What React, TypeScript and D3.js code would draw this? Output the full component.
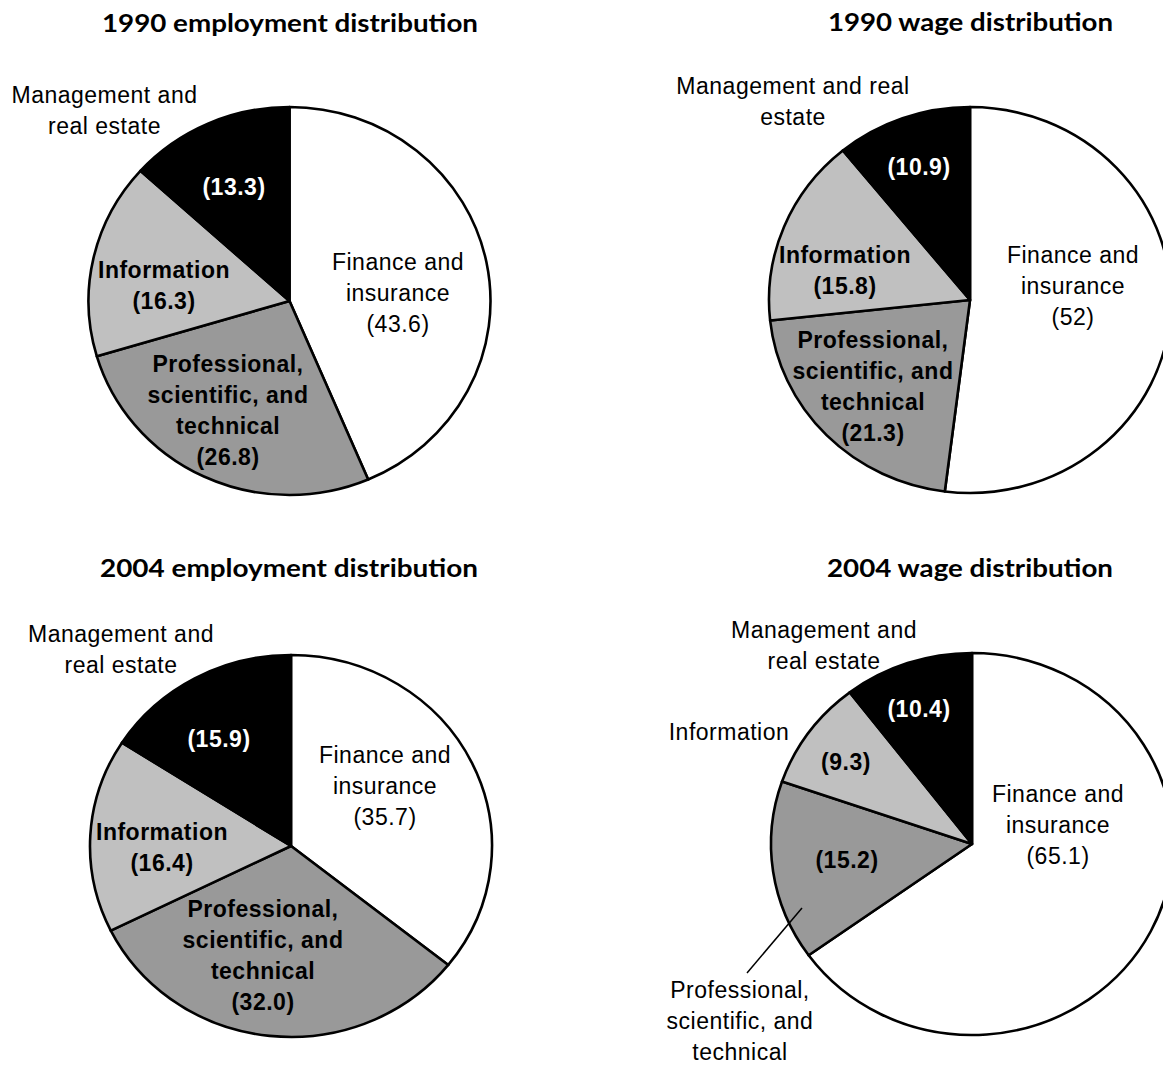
import React from "react";
import * as d3 from "d3";

// Sector order, clockwise from 12 o'clock
const sectors = [
  "Finance and insurance",
  "Professional, scientific, and technical",
  "Information",
  "Management and real estate",
];

// Shares in percent
const employment1990 = [43.6, 26.8, 16.3, 13.3];
const wages1990 = [52, 21.3, 15.8, 10.9];
const employment2004 = [35.7, 32.0, 16.4, 15.9];
const wages2004 = [65.1, 15.2, 9.3, 10.4];

// Printed value text
const employment1990Text = ["43.6", "26.8", "16.3", "13.3"];
const wages1990Text = ["52", "21.3", "15.8", "10.9"];
const employment2004Text = ["35.7", "32.0", "16.4", "15.9"];
const wages2004Text = ["65.1", "15.2", "9.3", "10.4"];

const titles = [
  "1990 employment distribution",
  "1990 wage distribution",
  "2004 employment distribution",
  "2004 wage distribution",
];

const fills = ["#ffffff", "#999999", "#c0c0c0", "#000000"];

const LABEL_FONT = "'Liberation Sans', Arial, Helvetica, sans-serif";
const TITLE_FONT = "Lato, 'DejaVu Sans', sans-serif";
const FS = 23;
const LH = 31;

type Label = {
  lines: string[];
  dx: number;
  dy: number;
  bold?: boolean;
  white?: boolean;
};

type PieSpec = {
  title: string;
  titleX: number;
  titleY: number;
  titleW: number;
  values: number[];
  text: string[];
  cx: number;
  cy: number;
  rx: number;
  ry: number;
  labels: (v: string[]) => Label[];
  leader?: [number, number, number, number];
};

const pies: PieSpec[] = [
  {
    title: titles[0],
    titleX: 290,
    titleY: 32,
    titleW: 376,
    values: employment1990,
    text: employment1990Text,
    cx: 289.5,
    cy: 301,
    rx: 201,
    ry: 194,
    labels: (v) => [
      { lines: ["Finance and", "insurance", `(${v[0]})`], dx: 108.5, dy: -31 },
      { lines: ["Professional,", "scientific, and", "technical", `(${v[1]})`], dx: -61.5, dy: 71, bold: true },
      { lines: ["Information", `(${v[2]})`], dx: -125.5, dy: -23, bold: true },
      { lines: [`(${v[3]})`], dx: -55.5, dy: -106, bold: true, white: true },
      { lines: ["Management and", "real estate"], dx: -185, dy: -198 },
    ],
  },
  {
    title: titles[1],
    titleX: 970.5,
    titleY: 31,
    titleW: 285,
    values: wages1990,
    text: wages1990Text,
    cx: 970,
    cy: 300,
    rx: 201,
    ry: 193,
    labels: (v) => [
      { lines: ["Finance and", "insurance", `(${v[0]})`], dx: 103, dy: -37 },
      { lines: ["Professional,", "scientific, and", "technical", `(${v[1]})`], dx: -97, dy: 48, bold: true },
      { lines: ["Information", `(${v[2]})`], dx: -125, dy: -37, bold: true },
      { lines: [`(${v[3]})`], dx: -51, dy: -125, bold: true, white: true },
      { lines: ["Management and real", "estate"], dx: -177, dy: -206 },
    ],
  },
  {
    title: titles[2],
    titleX: 289,
    titleY: 577,
    titleW: 378,
    values: employment2004,
    text: employment2004Text,
    cx: 291,
    cy: 846,
    rx: 201,
    ry: 191,
    labels: (v) => [
      { lines: ["Finance and", "insurance", `(${v[0]})`], dx: 94, dy: -83 },
      { lines: ["Professional,", "scientific, and", "technical", `(${v[1]})`], dx: -28, dy: 71, bold: true },
      { lines: ["Information", `(${v[2]})`], dx: -129, dy: -6, bold: true },
      { lines: [`(${v[3]})`], dx: -72, dy: -99, bold: true, white: true },
      { lines: ["Management and", "real estate"], dx: -170, dy: -204 },
    ],
  },
  {
    title: titles[3],
    titleX: 970,
    titleY: 577,
    titleW: 286,
    values: wages2004,
    text: wages2004Text,
    cx: 972,
    cy: 844,
    rx: 201,
    ry: 191,
    labels: (v) => [
      { lines: ["Finance and", "insurance", `(${v[0]})`], dx: 86, dy: -42 },
      { lines: [`(${v[1]})`], dx: -125, dy: 24, bold: true },
      { lines: ["Professional,", "scientific, and", "technical"], dx: -232, dy: 154 },
      { lines: [`(${v[2]})`], dx: -126, dy: -74, bold: true },
      { lines: ["Information"], dx: -243, dy: -104 },
      { lines: [`(${v[3]})`], dx: -53, dy: -127, bold: true, white: true },
      { lines: ["Management and", "real estate"], dx: -148, dy: -206 },
    ],
    leader: [-170, 64, -225, 129],
  },
];

const pieGen = d3
  .pie<number>()
  .sort(null)
  .value((d) => d)
  .startAngle(0)
  .endAngle(2 * Math.PI);

function Pie({ spec }: { spec: PieSpec }) {
  const arc = d3.arc<d3.PieArcDatum<number>>().innerRadius(0).outerRadius(spec.rx);
  const arcs = pieGen(spec.values);
  const squash = spec.ry / spec.rx;
  return (
    <g>
      <text
        x={spec.titleX}
        y={spec.titleY}
        textAnchor="middle"
        fontFamily={TITLE_FONT}
        fontWeight={700}
        fontSize={24}
        textLength={spec.titleW}
        lengthAdjust="spacingAndGlyphs"
        fill="#000"
      >
        {spec.title}
      </text>
      <g transform={`translate(${spec.cx},${spec.cy}) scale(1,${squash})`}>
        {arcs.map((a, i) => (
          <path
            key={sectors[i]}
            d={arc(a) || ""}
            fill={fills[i]}
            stroke="#000"
            strokeWidth={2.6}
            strokeLinejoin="round"
            vectorEffect="non-scaling-stroke"
          />
        ))}
      </g>
      {spec.leader && (
        <line
          x1={spec.cx + spec.leader[0]}
          y1={spec.cy + spec.leader[1]}
          x2={spec.cx + spec.leader[2]}
          y2={spec.cy + spec.leader[3]}
          stroke="#000"
          strokeWidth={1.5}
        />
      )}
      {spec.labels(spec.text).map((l, i) => (
        <text
          key={i}
          textAnchor="middle"
          fontFamily={LABEL_FONT}
          fontSize={FS}
          letterSpacing={0.5}
          fontWeight={l.bold ? 700 : 400}
          fill={l.white ? "#fff" : "#000"}
        >
          {l.lines.map((s, j) => (
            <tspan key={j} x={spec.cx + l.dx} y={spec.cy + l.dy + j * LH}>
              {s}
            </tspan>
          ))}
        </text>
      ))}
    </g>
  );
}

export default function App() {
  return (
    <svg
      width={1163}
      height={1069}
      viewBox="0 0 1163 1069"
      style={{ position: "absolute", left: 0, top: 0, background: "#fff" }}
    >
      <rect width={1163} height={1069} fill="#fff" />
      {pies.map((p) => (
        <Pie key={p.title} spec={p} />
      ))}
    </svg>
  );
}
